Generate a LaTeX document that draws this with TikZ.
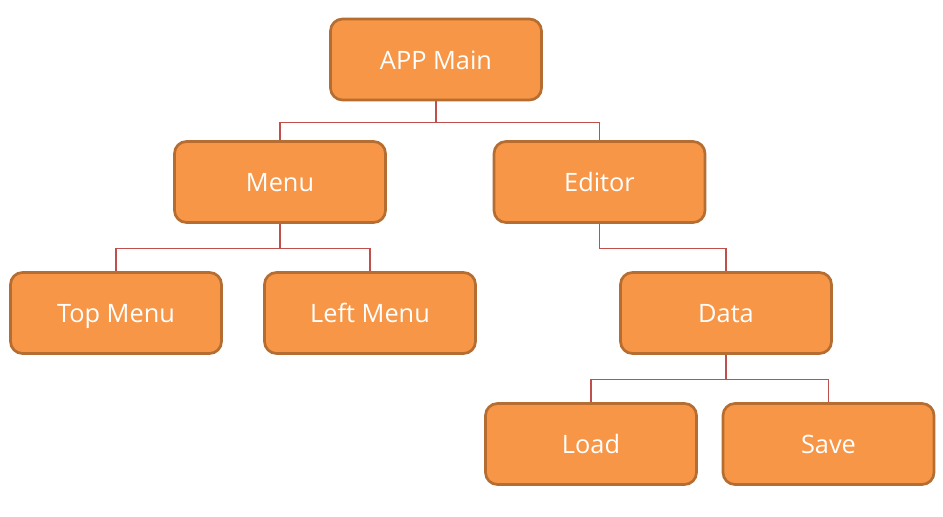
\documentclass[tikz,border=0pt]{standalone}
\usepackage{fontspec}
\setmainfont{Open Sans}
\definecolor{boxfill}{HTML}{F79646}
\definecolor{boxline}{HTML}{B66D31}
\definecolor{conn}{HTML}{C0504D}
\begin{document}
\begin{tikzpicture}[x=0.75pt,y=-0.75pt,
  box/.style={draw=boxline,line width=2pt,fill=boxfill,rounded corners=9pt,
    minimum width=211*0.75pt,minimum height=81*0.75pt,text=white,
    font=\fontsize{19}{22}\selectfont,inner sep=0pt,text height=16.5pt,text depth=2pt},
  link/.style={draw=conn,line width=0.8pt}]
\useasboundingbox (0,0) rectangle (943,517);
\node[box] (app) at (436,59.5) {APP Main};
\node[box] (menu) at (280,182) {Menu};
\node[box] (editor) at (599.5,182) {Editor};
\node[box] (top) at (116,313) {Top Menu};
\node[box] (left) at (370,313) {Left Menu};
\node[box] (data) at (726,313) {Data};
\node[box] (load) at (591,444) {Load};
\node[box] (save) at (828.5,444) {Save};
\draw[link] (app.south) -- ++(0,21) -| (menu.north);
\draw[link] (app.south) -- ++(0,21) -| (editor.north);
\draw[link] (menu.south) -- ++(0,25) -| (top.north);
\draw[link] (menu.south) -- ++(0,25) -| (left.north);
\draw[link] (editor.south) -- ++(0,25) -| (data.north);
\draw[link] (data.south) -- ++(0,25) -| (load.north);
\draw[link] (data.south) -- ++(0,25) -| (save.north);
\end{tikzpicture}
\end{document}
